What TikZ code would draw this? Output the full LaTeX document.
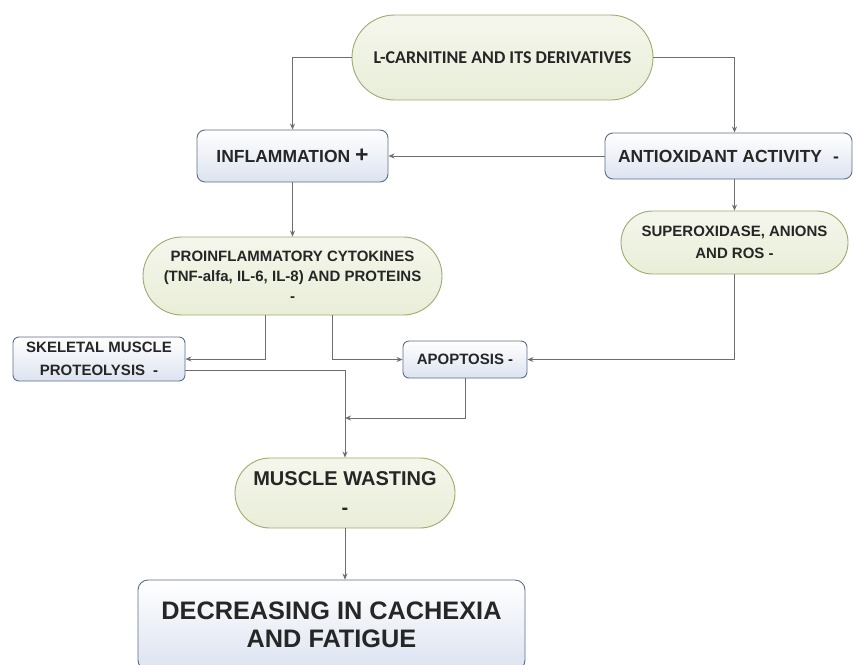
\documentclass[tikz,border=0pt]{standalone}
\usepackage{fontspec}
\setmainfont{Liberation Sans}
\newfontfamily\carlito{Carlito}
\usepackage{tikz}
\usetikzlibrary{arrows.meta,shapes.misc}
\definecolor{linegray}{HTML}{6E6E6E}
\definecolor{greenborder}{HTML}{9DAB6E}
\definecolor{greenfill}{HTML}{E9EED8}
\definecolor{blueborder}{HTML}{5A6E8C}
\definecolor{bluefill}{HTML}{DCE3F0}
\definecolor{textgray}{HTML}{262626}
\tikzstyle{Effect}=[shape=rounded rectangle, draw=greenborder, line width=0.9pt, top color=white!50!greenfill, bottom color=greenfill, text=textgray, font=\bfseries, align=center, inner sep=0pt]
\tikzstyle{Process}=[shape=rectangle, rounded corners=8pt, draw=blueborder, line width=0.9pt, top color=white, bottom color=bluefill, text=textgray, font=\bfseries, align=center, inner sep=0pt]
\tikzstyle{arrow}=[draw=linegray, line width=0.8pt, -{Stealth[length=6pt,width=5pt]}]
\pgfdeclarelayer{nodelayer}
\pgfdeclarelayer{edgelayer}
\pgfsetlayers{nodelayer, edgelayer}
\begin{document}
\begin{tikzpicture}[x=1pt, y=-1pt]
	\useasboundingbox [fill=white] (0, 0) rectangle (853, 664);
	\begin{pgfonlayer}{nodelayer}
		\node [style=Effect, minimum width=301, minimum height=85, font=\carlito\bfseries\fontsize{18}{22}\selectfont] (carnitine) at (502.5, 57.5) {L-CARNITINE AND ITS DERIVATIVES};
		\node [style=Process, minimum width=191, minimum height=52, font=\bfseries\fontsize{17.5}{20}\selectfont] (inflammation) at (292.5, 156) {INFLAMMATION {\fontsize{23}{23}\selectfont +}};
		\node [style=Process, minimum width=247, minimum height=46, font=\bfseries\fontsize{17.5}{20}\selectfont] (antioxidant) at (728.5, 156) {ANTIOXIDANT ACTIVITY\hspace{11pt}-};
		\node [style=Effect, minimum width=227, minimum height=63, font=\bfseries\fontsize{15}{22}\selectfont] (superoxide) at (734.5, 242.5) {SUPEROXIDASE, ANIONS\\AND ROS -};
		\node [style=Effect, minimum width=299, minimum height=78, font=\bfseries\fontsize{15}{20}\selectfont] (proinflammatory) at (292.5, 276) {PROINFLAMMATORY CYTOKINES\\(TNF-alfa, IL-6, IL-8) AND PROTEINS\\-};
		% lower row
		\node [style=Process, rounded corners=6pt, minimum width=172, minimum height=44, font=\bfseries\fontsize{15}{23}\selectfont] (skeletal) at (99, 359) {SKELETAL MUSCLE\\PROTEOLYSIS\hspace{8pt}-};
		\node [style=Process, rounded corners=6pt, minimum width=124, minimum height=37, font=\bfseries\fontsize{15}{18}\selectfont] (apoptosis) at (465, 359.5) {APOPTOSIS -};
		\node [style=Effect, minimum width=220, minimum height=70, font=\bfseries\fontsize{20}{29}\selectfont] (muscle) at (345, 493) {MUSCLE WASTING\\-};
		\node [style=Process, rounded corners=10pt, minimum width=387, minimum height=90, font=\bfseries\fontsize{25.3}{28}\selectfont] (decreasing) at (331.5, 625) {DECREASING IN CACHEXIA\\AND FATIGUE};
		\coordinate (join) at (345, 418);
	\end{pgfonlayer}
	\begin{pgfonlayer}{edgelayer}
		\draw [style=arrow] (carnitine.west) -| (inflammation.north);
		\draw [style=arrow] (carnitine.east) -| (antioxidant.north -| superoxide.north);
		\draw [style=arrow] (antioxidant.west) -- (inflammation.east);
		\draw [style=arrow] (antioxidant.south -| superoxide.north) -- (superoxide.north);
		\draw [style=arrow] (inflammation.south) -- (proinflammatory.north);
		\draw [style=arrow] ([xshift=-27]proinflammatory.south) |- (skeletal.east);
		\draw [style=arrow] ([xshift=40]proinflammatory.south) |- (apoptosis.west);
		\draw [style=arrow] (superoxide.south) |- (apoptosis.east);
		\draw [style=arrow] ([yshift=-11]skeletal.east) -| (muscle.north);
		\draw [style=arrow] (apoptosis.south) |- (join);
		\draw [style=arrow] (muscle.south) -- (muscle.south |- decreasing.north);
	\end{pgfonlayer}
\end{tikzpicture}
\end{document}
